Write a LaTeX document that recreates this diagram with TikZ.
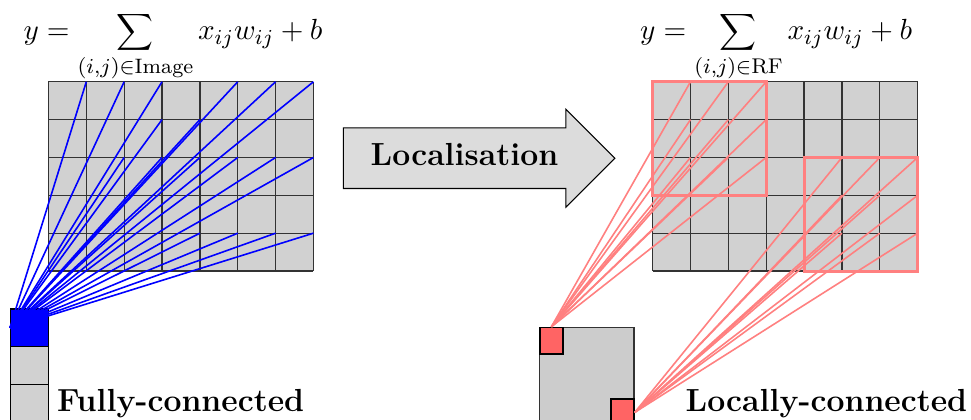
\documentclass[tikz,border=0pt]{standalone}
\usepackage{amsmath}
\usepackage{amssymb}
\usepackage{graphicx}
\usepackage{xcolor}
\usepackage{tikz}
\usetikzlibrary{calc}
\definecolor{CellGrey}{HTML}{D1D1D1}
\definecolor{MapGrey}{HTML}{CCCCCC}
\definecolor{ArrowGrey}{HTML}{DCDCDC}
\definecolor{LinkPink}{HTML}{FF8080}
\definecolor{UnitRed}{HTML}{FF6464}
\newcommand{\smallsum}{\mathop{\vcenter{\hbox{\scalebox{0.86}{$\displaystyle\sum$}}}}\limits}

\begin{document}
\begin{tikzpicture}[scale=0.5,
    cell/.style={fill=CellGrey, draw=black, line width=0.5pt, minimum size=0.5cm, inner sep=0pt},
    unit/.style={fill=UnitRed, draw=black, line width=0.5pt, minimum width=0.305cm, minimum height=0.35cm, inner sep=0pt},
    fclink/.style={blue, line width=0.6pt},
    lclink/.style={LinkPink, line width=0.6pt},
    rfbox/.style={LinkPink, line width=1.1pt},
    arrowbox/.style={fill=ArrowGrey, draw=black, line width=0.4pt},
    lbl/.style={font=\fontsize{12}{14}\selectfont\bfseries},
    eq/.style={font=\fontsize{11.2}{13}\selectfont}
]
\useasboundingbox (0,0) rectangle (25.65,11.09);

% Image grids (7x5)
\fill[CellGrey] (1.28,3.93) rectangle (8.28,8.93);
\fill[CellGrey] (17.24,3.93) rectangle (24.24,8.93);
\begin{scope}[shift={(1.28,3.93)}]
    \draw[black!80, line width=0.5pt] (0,0) grid (7,5);
\end{scope}
\begin{scope}[shift={(17.24,3.93)}]
    \draw[black!80, line width=0.5pt] (0,0) grid (7,5);
\end{scope}
\foreach \c in {0,...,7} {
    \foreach \r in {0,...,5} {
        \coordinate (L-\c-\r) at (1.28+\c, 8.93-\r);
        \coordinate (R-\c-\r) at (17.24+\c, 8.93-\r);
    }
}

% Fully-connected unit
\foreach \k in {1,2,3} {
    \node[cell] (fccol\k) at (0.78, 2.43-\k) {};
}
\node[cell, fill=blue] (fcunit) at (0.78, 2.43) {};
\foreach \c/\r in {1/0,2/0,3/0,5/0,6/0,7/0,3/1,4/1,2/2,3/2,4/2,5/2,6/2,7/2,4/4,5/4,6/4,7/4} {
    \draw[fclink] (fcunit.west) -- (L-\c-\r);
}

% Locally-connected feature map
\draw[fill=MapGrey, draw=black!80, line width=0.5pt] (14.26,-1) rectangle (16.75,2.44);
\node[unit] (rfunitA) at (14.565, 2.09) {};
\node[unit] (rfunitB) at (16.445, 0.197) {};
\foreach \c in {1,2,3} {
    \foreach \r in {0,1,2} {
        \draw[lclink] (rfunitA.north) -- (R-\c-\r);
    }
}
\foreach \c in {5,6,7} {
    \foreach \r in {2,3,4} {
        \draw[lclink] (rfunitB.east) -- (R-\c-\r);
    }
}
% Receptive fields
\draw[rfbox] (R-0-0) rectangle (R-3-3);
\draw[rfbox] (R-4-2) rectangle (R-7-5);

% Arrow
\draw[arrowbox] (9.07,6.11) -- (14.95,6.11) -- (14.95,5.62) -- (16.24,6.91)
    -- (14.95,8.2) -- (14.95,7.71) -- (9.07,7.71) -- cycle;
\node[lbl, anchor=base] (loclabel) at (12.27,6.71) {Localisation};

% Equations
\node[eq, anchor=base] (fceq) at (4.57,10.04) {$y = \smallsum_{(i,j)\in\text{Image}} x_{ij}w_{ij} + b$};
\node[eq, anchor=base] (lceq) at (20.5,10.04) {$y = \smallsum_{(i,j)\in\mathrm{RF}} x_{ij}w_{ij} + b$};

% Labels
\node[lbl, anchor=base] (fclabel) at (4.77,0.22) {Fully-connected};
\node[lbl, anchor=base] (lclabel) at (21.83,0.22) {Locally-connected};
\end{tikzpicture}
\end{document}
